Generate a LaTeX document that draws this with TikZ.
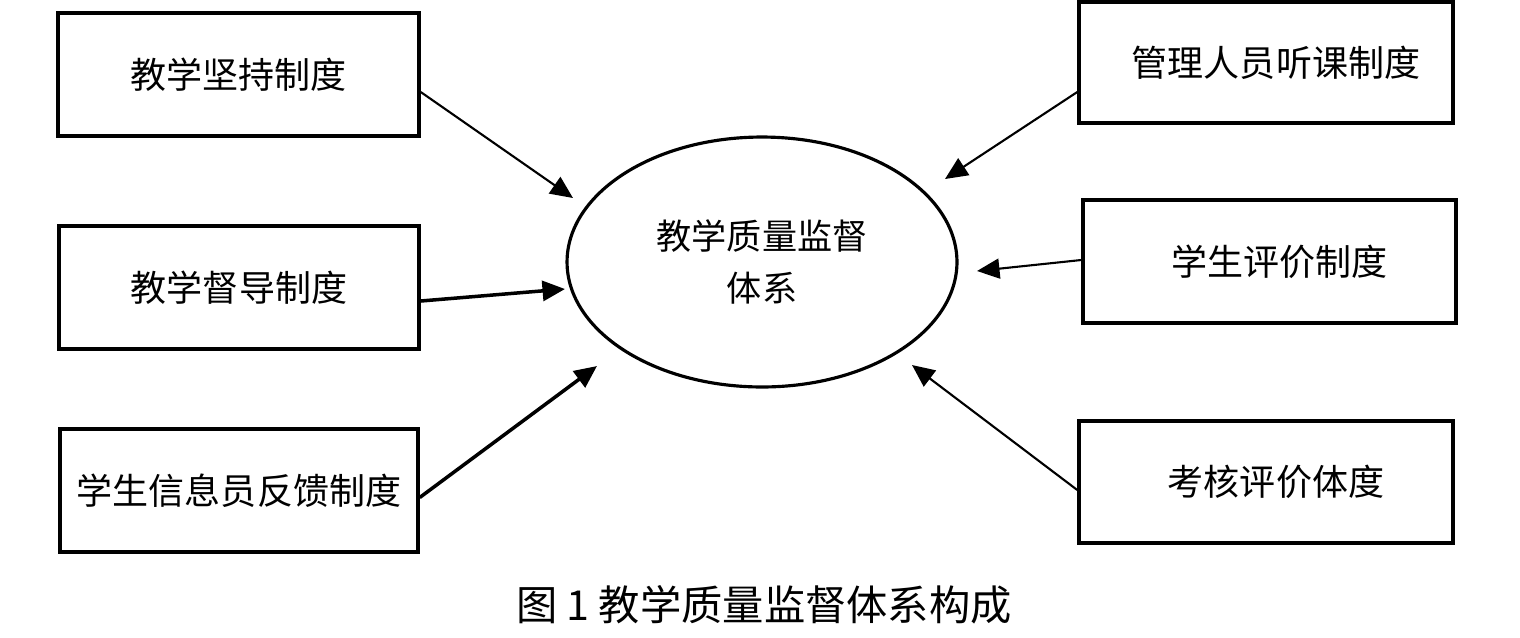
\documentclass[tikz,border=0pt]{standalone}
\usepackage{fontspec}
\newfontfamily\cjk{Noto Sans CJK SC}
\usetikzlibrary{arrows.meta,shapes.geometric}
\begin{document}
\begin{tikzpicture}[x=0.02cm,y=-0.02cm,>={Triangle[length=0.45cm,width=0.4cm]},
  box/.style={draw,line width=2pt,inner sep=0pt,minimum height=2.46cm,font=\cjk\fontsize{20.5}{24}\selectfont},
  link/.style={->,line width=1.2pt}]
  \useasboundingbox (0,0) rectangle (1520,637);
  \node[draw,ellipse,line width=1.8pt,inner sep=0pt,minimum width=7.8cm,minimum height=5cm,
    align=center,font=\cjk\fontsize{20}{30}\selectfont] (tixi) at (762,262) {教学质量监督\\体系};
  \node[box,minimum width=7.22cm] (jianchi) at (238.5,74.5) {教学坚持制度};
  \node[box,minimum width=7.2cm] (dudao) at (239,287.5) {教学督导制度};
  \node[box,minimum width=7.16cm] (xinxi) at (239,490.5) {学生信息员反馈制度};
  \node[box,minimum width=7.48cm,minimum height=2.42cm] (tingke) at (1266,62.5) {\hspace*{0.4cm}管理人员听课制度};
  \node[box,minimum width=7.46cm] (pingjia) at (1269.5,261.5) {\hspace*{0.4cm}学生评价制度};
  \node[box,minimum width=7.48cm,minimum height=2.44cm] (kaohe) at (1266,482) {\hspace*{0.4cm}考核评价体度};
  \coordinate (t1) at (573,198);
  \coordinate (t2) at (565,289);
  \coordinate (t3) at (597,366);
  \coordinate (t4) at (945,179);
  \coordinate (t5) at (977,271);
  \coordinate (t6) at (912,365);
  \draw[link] ([yshift=-0.35cm]jianchi.east) -- (t1);
  \draw[link,line width=2pt] ([yshift=-0.27cm]dudao.east) -- (t2);
  \draw[link,line width=2pt] ([yshift=-0.14cm]xinxi.east) -- (t3);
  \draw[link] ([yshift=-0.59cm]tingke.west) -- (t4);
  \draw[link] ([yshift=0.03cm]pingjia.west) -- (t5);
  \draw[link] ([yshift=-0.16cm]kaohe.west) -- (t6);
  \node[font=\cjk\fontsize{23.5}{28}\selectfont] (tuming) at (764,605) {图 1 教学质量监督体系构成};
\end{tikzpicture}
\end{document}
